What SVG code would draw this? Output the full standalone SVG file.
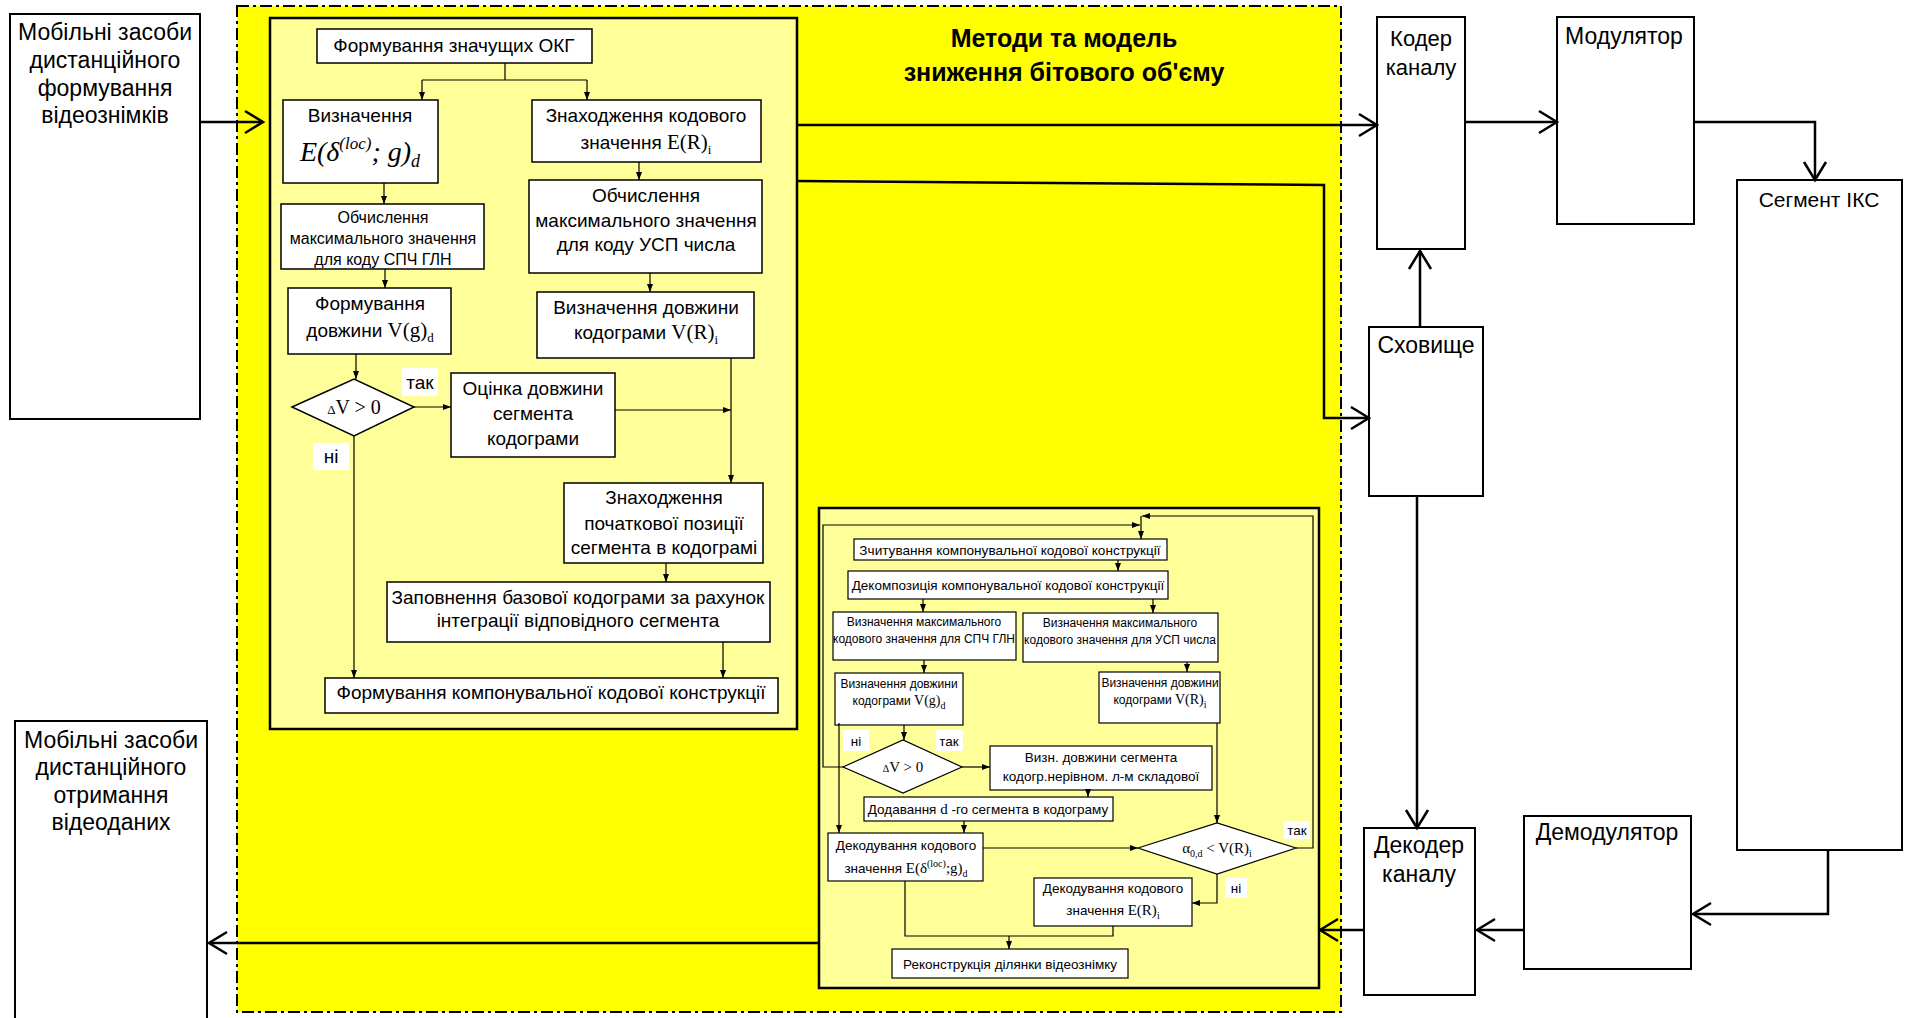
<svg xmlns="http://www.w3.org/2000/svg" width="1907" height="1018" viewBox="0 0 1907 1018">
<defs>
<marker id="oa" markerUnits="userSpaceOnUse" markerWidth="24" markerHeight="26" viewBox="0 0 24 26" refX="21" refY="13" orient="auto" overflow="visible"><path d="M3,2 L21,13 L3,24" fill="none" stroke="#000" stroke-width="2.5"/></marker>
<marker id="fa" markerUnits="userSpaceOnUse" markerWidth="8" markerHeight="6" viewBox="0 0 8 6" refX="8" refY="3" orient="auto"><path d="M0,0 L8,3 L0,6 z" fill="#000"/></marker>
</defs>
<style>
.f{font-family:"Liberation Sans",Arial,sans-serif;fill:#000}
.m{font-family:"Liberation Serif","Times New Roman",serif;fill:#000}
.c{text-anchor:middle}
.ob{fill:#fff;stroke:#000;stroke-width:2}
.b{fill:#fff;stroke:#000;stroke-width:1.5}
.sb{fill:#fff;stroke:#000;stroke-width:1.2}
.pan{fill:#ffff99;stroke:#000;stroke-width:2.5}
.lbl{fill:#fff}
.w{fill:none;stroke:#000;stroke-width:2.5}
.n{fill:none;stroke:#000;stroke-width:1.2}
</style>
<rect width="1907" height="1018" fill="#fff"/>

<g id="region">
<rect x="237" y="6" width="1104" height="1006" fill="#ffff00" stroke="#000" stroke-width="2" stroke-dasharray="12 4 3 4"/>
<text class="f c" x="1064" y="47" font-size="25" font-weight="bold">Методи та модель</text>
<text class="f c" x="1064" y="81" font-size="25" font-weight="bold">зниження бітового об'єму</text>
</g>

<g id="src">
<rect class="ob" x="10" y="14" width="190" height="405"/>
<text class="f c" font-size="23"><tspan x="105" y="40">Мобільні засоби</tspan><tspan x="105" y="68">дистанційного</tspan><tspan x="105" y="96">формування</tspan><tspan x="105" y="123">відеознімків</tspan></text>
</g>

<g id="dst">
<rect class="ob" x="15" y="721" width="192" height="310"/>
<text class="f c" font-size="23"><tspan x="111" y="748">Мобільні засоби</tspan><tspan x="111" y="775">дистанційного</tspan><tspan x="111" y="803">отримання</tspan><tspan x="111" y="830">відеоданих</tspan></text>
</g>

<g id="coder">
<rect class="ob" x="1377" y="17" width="88" height="232"/>
<text class="f c" font-size="22"><tspan x="1421" y="46">Кодер</tspan><tspan x="1421" y="75">каналу</tspan></text>
</g>
<g id="modulator">
<rect class="ob" x="1557" y="17" width="137" height="207"/>
<text class="f c" x="1624" y="44" font-size="23">Модулятор</text>
</g>
<g id="segment">
<rect class="ob" x="1737" y="180" width="165" height="670"/>
<text class="f c" x="1819" y="207" font-size="21">Сегмент ІКС</text>
</g>
<g id="storage">
<rect class="ob" x="1369" y="327" width="114" height="169"/>
<text class="f c" x="1426" y="353" font-size="23">Сховище</text>
</g>
<g id="decoder">
<rect class="ob" x="1364" y="828" width="111" height="167"/>
<text class="f c" font-size="23"><tspan x="1419" y="853">Декодер</tspan><tspan x="1419" y="882">каналу</tspan></text>
</g>
<g id="demodulator">
<rect class="ob" x="1524" y="816" width="167" height="153"/>
<text class="f c" x="1607" y="840" font-size="23">Демодулятор</text>
</g>

<g id="encpanel">
<rect class="pan" x="270" y="18" width="527" height="711"/>
</g>
<g id="e1"><rect class="b" x="317" y="29" width="275" height="34"/><text class="f c" x="454" y="52" font-size="19">Формування значущих ОКГ</text></g>
<g id="e2"><rect class="b" x="283" y="100" width="155" height="83"/><text class="f c" x="360" y="122" font-size="19">Визначення</text>
<text class="m c" x="360" y="161" font-size="28" font-style="italic">E(δ<tspan font-size="17" dy="-12">(loc)</tspan><tspan dy="12">; g)</tspan><tspan font-size="18" dy="6">d</tspan></text></g>
<g id="e3"><rect class="b" x="532" y="100" width="229" height="62"/><text class="f c" font-size="19"><tspan x="646" y="122">Знаходження кодового</tspan></text><text class="f c" x="646" y="149" font-size="19">значення <tspan class="m" font-size="21">E(R)</tspan><tspan class="m" font-size="13" dy="5">i</tspan></text></g>
<g id="e4"><rect class="b" x="281" y="204" width="203" height="65"/><text class="f c" font-size="16"><tspan x="383" y="223">Обчислення</tspan><tspan x="383" y="244">максимального значення</tspan><tspan x="383" y="265">для коду СПЧ ГЛН</tspan></text></g>
<g id="e5"><rect class="b" x="529" y="180" width="233" height="93"/><text class="f c" font-size="19"><tspan x="646" y="202">Обчислення</tspan><tspan x="646" y="227">максимального значення</tspan><tspan x="646" y="251">для коду УСП числа</tspan></text></g>
<g id="e6"><rect class="b" x="288" y="288" width="163" height="66"/><text class="f c" x="370" y="310" font-size="19">Формування</text><text class="f c" x="370" y="337" font-size="19">довжини <tspan class="m" font-size="21">V(g)</tspan><tspan class="m" font-size="13" dy="5">d</tspan></text></g>
<g id="e7"><rect class="b" x="537" y="292" width="217" height="66"/><text class="f c" x="646" y="314" font-size="19">Визначення довжини</text><text class="f c" x="646" y="339" font-size="19">кодограми <tspan class="m" font-size="21">V(R)</tspan><tspan class="m" font-size="13" dy="5">i</tspan></text></g>
<g id="e8"><polygon class="b" points="292,407 354,379 414,407 354,436"/><text class="m c" x="354" y="414" font-size="20"><tspan font-size="13">Δ</tspan>V &gt; 0</text></g>
<g id="e9"><rect class="b" x="451" y="373" width="164" height="84"/><text class="f c" font-size="19"><tspan x="533" y="395">Оцінка довжини</tspan><tspan x="533" y="420">сегмента</tspan><tspan x="533" y="445">кодограми</tspan></text></g>
<g id="e10"><rect class="b" x="564" y="483" width="199" height="80"/><text class="f c" font-size="19"><tspan x="664" y="504">Знаходження</tspan><tspan x="664" y="530">початкової позиції</tspan><tspan x="664" y="554">сегмента в кодограмі</tspan></text></g>
<g id="e11"><rect class="b" x="387" y="582" width="383" height="60"/><text class="f c" font-size="19"><tspan x="578" y="604">Заповнення базової кодограми за рахунок</tspan><tspan x="578" y="627">інтеграції відповідного сегмента</tspan></text></g>
<g id="e12"><rect class="b" x="325" y="678" width="453" height="35"/><text class="f c" x="551" y="699" font-size="19">Формування компонувальної кодової конструкції</text></g>
<g id="elabels">
<rect class="lbl" x="402" y="368" width="36" height="28"/><text class="f c" x="420" y="389" font-size="19">так</text>
<rect class="lbl" x="313" y="443" width="36" height="27"/><text class="f c" x="331" y="463" font-size="19">ні</text>
</g>

<g id="decpanel">
<rect class="pan" x="819" y="508" width="500" height="480"/>
</g>
<g id="d1"><rect class="sb" x="854" y="539" width="313" height="21"/><text class="f c" x="1010" y="555" font-size="13.6">Зчитування компонувальної кодової конструкції</text></g>
<g id="d2"><rect class="sb" x="848" y="571" width="320" height="28"/><text class="f c" x="1008" y="590" font-size="13.5">Декомпозиція компонувальної кодової конструкції</text></g>
<g id="d3"><rect class="sb" x="833" y="612" width="183" height="48"/><text class="f c" font-size="12"><tspan x="924" y="626">Визначення максимального</tspan><tspan x="924" y="643">кодового значення для СПЧ ГЛН</tspan></text></g>
<g id="d4"><rect class="sb" x="1023" y="613" width="195" height="49"/><text class="f c" font-size="12"><tspan x="1120" y="627">Визначення максимального</tspan><tspan x="1120" y="644">кодового значення для УСП числа</tspan></text></g>
<g id="d5"><rect class="sb" x="835" y="673" width="128" height="52"/><text class="f c" x="899" y="688" font-size="12">Визначення довжини</text><text class="f c" x="899" y="705" font-size="12">кодограми <tspan class="m" font-size="14">V(g)</tspan><tspan class="m" font-size="10" dy="4">d</tspan></text></g>
<g id="d6"><rect class="sb" x="1099" y="672" width="121" height="51"/><text class="f c" x="1160" y="687" font-size="12">Визначення довжини</text><text class="f c" x="1160" y="704" font-size="12">кодограми <tspan class="m" font-size="14">V(R)</tspan><tspan class="m" font-size="10" dy="4">i</tspan></text></g>
<g id="d7"><polygon class="sb" points="843,767 903,740 962,767 903,793"/><text class="m c" x="903" y="772" font-size="15"><tspan font-size="10">Δ</tspan>V &gt; 0</text></g>
<g id="d8"><rect class="sb" x="990" y="746" width="222" height="44"/><text class="f c" font-size="13.5"><tspan x="1101" y="762">Визн. довжини сегмента</tspan><tspan x="1101" y="781">кодогр.нерівном. л-м складової</tspan></text></g>
<g id="d9"><rect class="sb" x="864" y="797" width="249" height="24"/><text class="f c" x="988" y="814" font-size="13.5">Додавання <tspan class="m" font-size="15">d</tspan> -го сегмента в кодограму</text></g>
<g id="d10"><rect class="sb" x="828" y="833" width="155" height="48"/><text class="f c" x="906" y="850" font-size="13.5">Декодування кодового</text><text class="f c" x="906" y="873" font-size="13.5">значення <tspan class="m" font-size="15">E(δ</tspan><tspan class="m" font-size="10" dy="-6">(loc)</tspan><tspan class="m" font-size="15" dy="6">;g)</tspan><tspan class="m" font-size="10" dy="4">d</tspan></text></g>
<g id="d11"><polygon class="sb" points="1138,848 1217,823 1296,848 1217,874"/><text class="m c" x="1217" y="853" font-size="15">α<tspan font-size="10" dy="4">0,d</tspan><tspan dy="-4"> &lt; V(R)</tspan><tspan font-size="10" dy="4">i</tspan></text></g>
<g id="d12"><rect class="sb" x="1034" y="878" width="158" height="48"/><text class="f c" x="1113" y="893" font-size="13.5">Декодування кодового</text><text class="f c" x="1113" y="915" font-size="13.5">значення <tspan class="m" font-size="15">E(R)</tspan><tspan class="m" font-size="10" dy="4">i</tspan></text></g>
<g id="d13"><rect class="sb" x="892" y="949" width="236" height="29"/><text class="f c" x="1010" y="969" font-size="13.5">Реконструкція ділянки відеознімку</text></g>
<g id="dlabels">
<rect class="lbl" x="843" y="730" width="26" height="21"/><text class="f c" x="856" y="746" font-size="13.5">ні</text>
<rect class="lbl" x="936" y="730" width="27" height="21"/><text class="f c" x="949" y="746" font-size="13.5">так</text>
<rect class="lbl" x="1284" y="821" width="26" height="18"/><text class="f c" x="1297" y="835" font-size="13.5">так</text>
<rect class="lbl" x="1225" y="878" width="22" height="20"/><text class="f c" x="1236" y="893" font-size="13.5">ні</text>
</g>

<g id="connectors">
<line class="w" x1="200" y1="122" x2="263" y2="122" marker-end="url(#oa)"/>
<line class="w" x1="797" y1="125" x2="1377" y2="125" marker-end="url(#oa)"/>
<path class="w" d="M797,181 L1324,185 L1324,418 L1369,418" marker-end="url(#oa)"/>
<line class="w" x1="1465" y1="122" x2="1557" y2="122" marker-end="url(#oa)"/>
<path class="w" d="M1694,122 H1815 V180" marker-end="url(#oa)"/>
<line class="w" x1="1420" y1="327" x2="1420" y2="251" marker-end="url(#oa)"/>
<line class="w" x1="1417" y1="496" x2="1417" y2="828" marker-end="url(#oa)"/>
<path class="w" d="M1828,850 V914 H1693" marker-end="url(#oa)"/>
<line class="w" x1="1524" y1="930" x2="1477" y2="930" marker-end="url(#oa)"/>
<line class="w" x1="1364" y1="930" x2="1320" y2="930" marker-end="url(#oa)"/>
<line class="w" x1="819" y1="943" x2="209" y2="943" marker-end="url(#oa)"/>

<path class="n" d="M505,63 V80 M422,80 H587"/>
<line class="n" x1="422" y1="80" x2="422" y2="100" marker-end="url(#fa)"/>
<line class="n" x1="587" y1="80" x2="587" y2="100" marker-end="url(#fa)"/>
<line class="n" x1="384" y1="183" x2="384" y2="204" marker-end="url(#fa)"/>
<line class="n" x1="639" y1="162" x2="639" y2="180" marker-end="url(#fa)"/>
<line class="n" x1="385" y1="269" x2="385" y2="288" marker-end="url(#fa)"/>
<line class="n" x1="650" y1="273" x2="650" y2="292" marker-end="url(#fa)"/>
<line class="n" x1="356" y1="354" x2="356" y2="379" marker-end="url(#fa)"/>
<line class="n" x1="414" y1="407" x2="451" y2="407" marker-end="url(#fa)"/>
<line class="n" x1="615" y1="410" x2="731" y2="410" marker-end="url(#fa)"/>
<line class="n" x1="731" y1="358" x2="731" y2="483" marker-end="url(#fa)"/>
<line class="n" x1="666" y1="563" x2="666" y2="582" marker-end="url(#fa)"/>
<line class="n" x1="723" y1="642" x2="723" y2="678" marker-end="url(#fa)"/>
<line class="n" x1="354" y1="436" x2="354" y2="678" marker-end="url(#fa)"/>

<path class="n" d="M1296,848 H1313 V516 H1142" marker-end="url(#fa)"/>
<line class="n" x1="1141" y1="516" x2="1141" y2="539" marker-end="url(#fa)"/>
<path class="n" d="M843,767 H823 V525 H1140" marker-end="url(#fa)"/>
<line class="n" x1="1118" y1="560" x2="1118" y2="571" marker-end="url(#fa)"/>
<line class="n" x1="923" y1="599" x2="923" y2="612" marker-end="url(#fa)"/>
<line class="n" x1="1153" y1="599" x2="1153" y2="613" marker-end="url(#fa)"/>
<line class="n" x1="924" y1="660" x2="924" y2="673" marker-end="url(#fa)"/>
<line class="n" x1="1187" y1="662" x2="1187" y2="672" marker-end="url(#fa)"/>
<line class="n" x1="904" y1="725" x2="904" y2="740" marker-end="url(#fa)"/>
<line class="n" x1="839" y1="723" x2="839" y2="833" marker-end="url(#fa)"/>
<line class="n" x1="962" y1="767" x2="990" y2="767" marker-end="url(#fa)"/>
<line class="n" x1="1088" y1="790" x2="1088" y2="797" marker-end="url(#fa)"/>
<line class="n" x1="964" y1="821" x2="964" y2="833" marker-end="url(#fa)"/>
<line class="n" x1="983" y1="848" x2="1138" y2="848" marker-end="url(#fa)"/>
<line class="n" x1="1217" y1="723" x2="1217" y2="823" marker-end="url(#fa)"/>
<path class="n" d="M1217,874 V903 H1192" marker-end="url(#fa)"/>
<path class="n" d="M905,881 V936 H1113 V926"/>
<line class="n" x1="1009" y1="936" x2="1009" y2="949" marker-end="url(#fa)"/>
</g>
</svg>
